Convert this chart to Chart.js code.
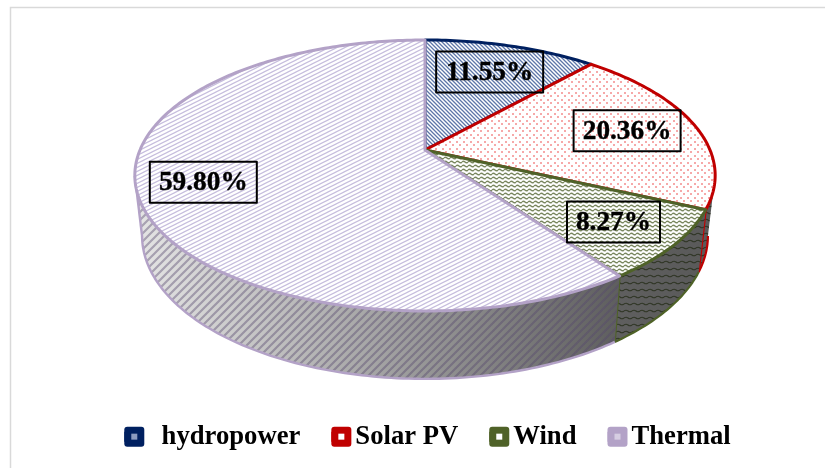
<!DOCTYPE html>
<html>
<head>
<meta charset="utf-8">
<style>
  body { margin: 0; background: #fff; }
</style>
</head>
<body>
<canvas id="shareChart" width="825" height="468"></canvas>
<script src="https://cdn.jsdelivr.net/npm/chart.js@4"></script>
<script>
const categories = ['  hydropower', 'Solar PV', 'Wind', 'Thermal'];
const shares = [11.55, 20.36, 8.27, 59.80];
const edgeColors = ['#002060', '#C00000', '#4F6228', '#B3A2C7'];

// perspective used for the tilted disc, fitted on the reference outline
const view = { cx: 425, cy: 150, a: 102.5, A: 285, c: -0.188 };
const fontBold = 'bold 27.3px "Liberation Serif"';

function project(theta, f = 1) {
  const u = f * Math.cos(theta);
  const v = f * Math.sin(theta);
  const w = 1 + view.c * v;
  return [view.cx + view.A * u / w, (view.cy + view.a * v) / w];
}

function lower(p) {
  return [view.cx + 0.975 * (p[0] - view.cx), 1.056 * p[1] + 50.5];
}

function tile(w, h, paint) {
  const c = document.createElement('canvas');
  c.width = w;
  c.height = h;
  paint(c.getContext('2d'));
  return c;
}

// seamless diagonal lines, dir 1 is "/" and dir -1 is "\"
function diag(g, w, h, dir, color, width) {
  g.strokeStyle = color;
  g.lineWidth = width;
  g.beginPath();
  for (let k = -2; k <= 2; k++) {
    const y0 = dir > 0 ? h + k * h : k * h;
    g.moveTo(-w, y0 + dir * h);
    g.lineTo(2 * w, y0 - dir * 2 * h);
  }
  g.stroke();
}

const tiles = {
  hydro: tile(4, 4, g => diag(g, 4, 4, -1, '#5d76a8', 1.3)),
  solar: tile(7, 7, g => {
    g.fillStyle = '#f6a9a9';
    g.fillRect(1, 1, 2, 2);
    g.fillRect(4, 4, 2, 2);
  }),
  wind: tile(6, 4, g => {
    g.strokeStyle = '#7b8860';
    g.lineWidth = 1.4;
    g.beginPath();
    g.moveTo(0, 2);
    g.quadraticCurveTo(1.5, 0.5, 3, 2);
    g.quadraticCurveTo(4.5, 3.5, 6, 2);
    g.stroke();
  }),
  thermal: tile(8, 4, g => diag(g, 8, 4, 1, '#c6bddd', 1.2)),
  wallStripe: tile(8, 8, g => diag(g, 8, 8, 1, 'rgba(85,72,110,0.42)', 2.2)),
  wallWave: tile(8, 7, g => {
    g.strokeStyle = 'rgba(30,38,15,0.7)';
    g.lineWidth = 1.2;
    g.beginPath();
    g.moveTo(0, 3);
    g.quadraticCurveTo(2, 1.5, 4, 3);
    g.quadraticCurveTo(6, 4.5, 8, 3);
    g.stroke();
  })
};

const pie3d = {
  id: 'pie3d',
  beforeDatasetsDraw(chart) {
    const ctx = chart.ctx;
    const arcs = chart.getDatasetMeta(0).data;
    const step = Math.PI / 180;
    const pat = k => ctx.createPattern(tiles[k], 'repeat');

    const shade = ctx.createLinearGradient(140, 0, 700, 0);
    shade.addColorStop(0, '#e4e4e4');
    shade.addColorStop(0.45, '#a0a0a0');
    shade.addColorStop(0.85, '#5f5f5f');
    shade.addColorStop(1, '#5a5a5a');

    // side wall, only the part turned to the viewer
    const lo = Math.asin(0.19);
    const hi = Math.PI - lo;
    arcs.forEach((arc, i) => {
      const from = Math.max(arc.startAngle, lo);
      const to = Math.min(arc.endAngle, hi);
      if (to <= from) return;
      const top = [];
      for (let t = from; t < to; t += step) top.push(project(t));
      top.push(project(to));
      const bottom = top.map(lower).reverse();
      ctx.beginPath();
      top.concat(bottom).forEach((p, n) => n ? ctx.lineTo(p[0], p[1]) : ctx.moveTo(p[0], p[1]));
      ctx.closePath();
      ctx.fillStyle = shade;
      ctx.fill();
      ctx.fillStyle = pat(i === 3 ? 'wallStripe' : 'wallWave');
      ctx.fill();
      ctx.strokeStyle = edgeColors[i];
      ctx.lineWidth = i === 3 ? 2.4 : 2.2;
      ctx.lineJoin = 'round';
      ctx.beginPath();
      bottom.forEach((p, n) => n ? ctx.lineTo(p[0], p[1]) : ctx.moveTo(p[0], p[1]));
      ctx.stroke();
      ctx.beginPath();
      ctx.moveTo(top[top.length - 1][0], top[top.length - 1][1]);
      ctx.lineTo(bottom[0][0], bottom[0][1]);
      ctx.stroke();
    });

    // top face
    const faces = ['hydro', 'solar', 'wind', 'thermal'];
    arcs.forEach((arc, i) => {
      ctx.beginPath();
      ctx.moveTo(view.cx, view.cy);
      for (let t = arc.startAngle; t < arc.endAngle; t += step) {
        const p = project(t);
        ctx.lineTo(p[0], p[1]);
      }
      const end = project(arc.endAngle);
      ctx.lineTo(end[0], end[1]);
      ctx.closePath();
      ctx.fillStyle = '#fff';
      ctx.fill();
      ctx.fillStyle = pat(faces[i]);
      ctx.fill();
      ctx.strokeStyle = edgeColors[i];
      ctx.lineWidth = 3;
      ctx.lineJoin = 'round';
      ctx.stroke();
    });

    // value boxes
    const reach = [0.72, 0.745, 0.78, 0.78];
    arcs.forEach((arc, i) => {
      const p = project((arc.startAngle + arc.endAngle) / 2, reach[i]);
      const text = shares[i].toFixed(2) + '%';
      ctx.font = fontBold;
      const w = i === 2 ? 93 : 107;
      ctx.strokeStyle = '#000';
      ctx.lineWidth = 2;
      ctx.strokeRect(p[0] - w / 2, p[1] - 20.5, w, 41);
      ctx.fillStyle = '#000';
      ctx.textAlign = 'center';
      ctx.textBaseline = 'middle';
      ctx.fillText(text, p[0], p[1] + 1);
      ctx.lineWidth = 0.4;
      ctx.strokeText(text, p[0], p[1] + 1);
    });
    return false;
  },
  beforeDraw(chart) {
    const ctx = chart.ctx;
    ctx.fillStyle = '#fff';
    ctx.fillRect(0, 0, chart.width, chart.height);
    ctx.strokeStyle = '#d9d9d9';
    ctx.lineWidth = 1.5;
    ctx.beginPath();
    ctx.moveTo(10.5, chart.height);
    ctx.lineTo(10.5, 7.5);
    ctx.lineTo(chart.width, 7.5);
    ctx.stroke();
  },
  afterDraw(chart) {
    // swatches over the legend boxes
    const ctx = chart.ctx;
    const inner = ['#8c9cc0', '#fff', '#fff', '#d6cde2'];
    chart.legend.legendHitBoxes.forEach((box, i) => {
      const y = box.top + box.height / 2;
      ctx.fillStyle = edgeColors[i];
      ctx.beginPath();
      ctx.roundRect(box.left, y - 10, 20, 20, 3);
      ctx.fill();
      ctx.fillStyle = inner[i];
      ctx.fillRect(box.left + 7, y - 3, 6, 6);
    });
  }
};

new Chart(document.getElementById('shareChart').getContext('2d'), {
  type: 'pie',
  data: {
    labels: categories,
    datasets: [{ data: shares, backgroundColor: edgeColors, borderWidth: 0 }]
  },
  options: {
    responsive: false,
    animation: false,
    layout: { padding: { left: 30, bottom: 8 } },
    plugins: {
      tooltip: { enabled: false },
      legend: {
        position: 'bottom',
        labels: {
          boxWidth: 10.67,
          boxHeight: 10,
          padding: 31,
          color: '#000',
          font: { family: 'Liberation Serif', size: 26.67, weight: 'bold' }
        }
      }
    }
  },
  plugins: [pie3d]
});
</script>
</body>
</html>
